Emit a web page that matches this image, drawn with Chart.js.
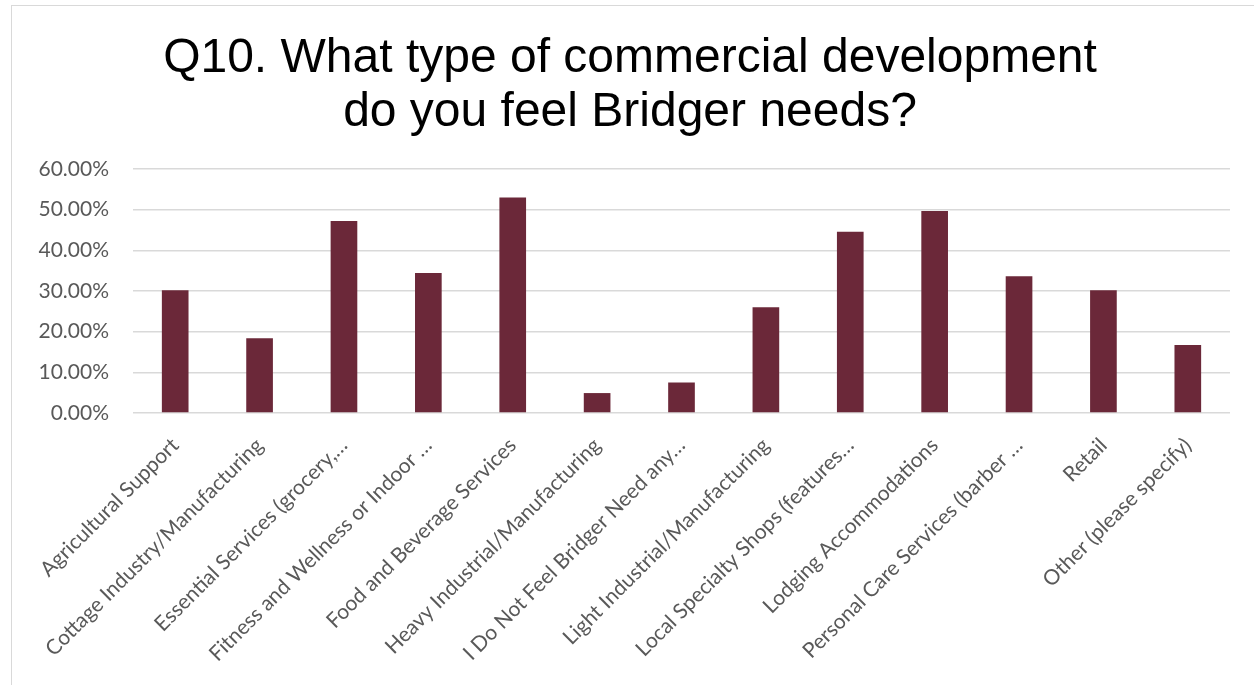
<!DOCTYPE html>
<html>
<head>
<meta charset="utf-8">
<script src="https://cdn.jsdelivr.net/npm/chart.js@4"></script>
<style>
  html, body { margin: 0; padding: 0; background: #fff; overflow: hidden; }
  #box {
    position: absolute; left: 11px; top: 5px;
    width: 1260px; height: 720px;
    border: 1px solid #d9d9d9; background: #fff;
  }
  #box canvas { position: absolute; left: 0; top: 0; }
  #titulo {
    position: absolute; left: 0; top: 23px; width: 1236px;
    text-align: center; color: #000;
    font-family: 'Liberation Sans', Arial, sans-serif;
    font-size: 48px; line-height: 54px;
    z-index: 1;
  }
</style>
</head>
<body>
<div id="box">
  <div id="titulo"></div>
  <canvas id="grafico_q10"></canvas>
</div>
<script>
const categorias = [
    'Agricultural Support',
    'Cottage Industry/Manufacturing',
    'Essential Services (grocery,…',
    'Fitness and Wellness or Indoor …',
    'Food and Beverage Services',
    'Heavy Industrial/Manufacturing',
    'I Do Not Feel Bridger Need any…',
    'Light Industrial/Manufacturing',
    'Local Specialty Shops (features…',
    'Lodging Accommodations',
    'Personal Care Services (barber …',
    'Retail',
    'Other (please specify)'
]
// percentual de respostas (fração)
const respostas = [0.302, 0.184, 0.472, 0.344, 0.530, 0.049, 0.075, 0.260, 0.446, 0.497, 0.336, 0.302, 0.167]
const yTicks = [0, 0.1, 0.2, 0.3, 0.4, 0.5, 0.6]
const tituloLinhas = ['Q10. What type of commercial development', 'do you feel Bridger needs?']

const corBarra = '#6b2839'
const corTexto = '#595959'
const corGrade = '#d9d9d9'
const fonteEixo = { family: 'Lato, Carlito, Calibri, sans-serif', size: 21 }

// título em HTML, centrado sobre a caixa do gráfico
const titulo = document.querySelector('#titulo')
tituloLinhas.forEach((linha, i) => {
    if (i > 0) titulo.appendChild(document.createElement('br'))
    titulo.appendChild(document.createTextNode(linha))
})

const ctx = document.querySelector('#grafico_q10')

const chart = new Chart(ctx, {
    type: 'bar',
    data: {
        labels: categorias,
        datasets: [{
            data: respostas,
            backgroundColor: corBarra,
            borderWidth: 0,
            categoryPercentage: 1,
            barPercentage: 0.316
        }]
    },
    options: {
        responsive: true,
        maintainAspectRatio: false,
        animation: false,
        layout: { padding: { left: 0, right: 42, top: 163, bottom: 0 } },
        plugins: {
            legend: { display: false },
            tooltip: { enabled: false },
            title: { display: false }
        },
        scales: {
            y: {
                min: 0,
                max: 0.6,
                afterBuildTicks: axis => { axis.ticks = yTicks.map(v => ({ value: v })) },
                afterFit: axis => { axis.width = 121 },
                border: { display: false },
                grid: { color: corGrade, lineWidth: 1.5, drawTicks: false },
                ticks: {
                    color: corTexto,
                    padding: 24,
                    font: fonteEixo,
                    callback: v => (v * 100).toFixed(2) + '%'
                }
            },
            x: {
                afterFit: axis => { axis.height = 313 },
                border: { display: false },
                grid: { display: false, drawTicks: false },
                ticks: {
                    color: corTexto,
                    autoSkip: false,
                    maxRotation: 45,
                    minRotation: 45,
                    padding: 20,
                    font: fonteEixo
                }
            }
        }
    }
})
</script>
</body>
</html>
